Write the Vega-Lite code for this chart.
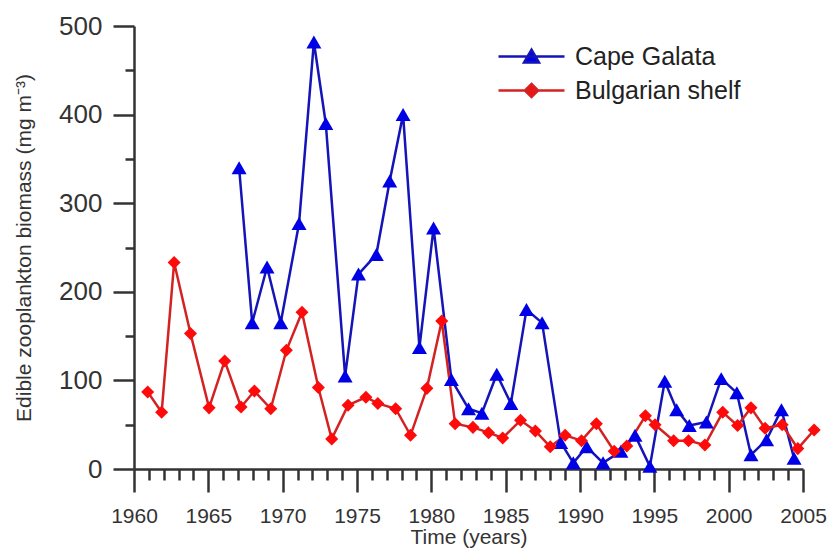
{
  "$schema": "https://vega.github.io/schema/vega-lite/v6.json",
  "autosize": "none",
  "width": 669,
  "height": 443,
  "padding": {"left": 134, "top": 26, "right": 24, "bottom": 79},
  "background": "white",
  "config": {
    "view": {"stroke": null},
    "font": "Liberation Sans"
  },
  "data": {
    "values": [
      {"series": "Cape Galata", "year": 1967.07, "value": 340},
      {"series": "Cape Galata", "year": 1967.95, "value": 165},
      {"series": "Cape Galata", "year": 1968.95, "value": 228},
      {"series": "Cape Galata", "year": 1969.87, "value": 165},
      {"series": "Cape Galata", "year": 1971.1, "value": 277},
      {"series": "Cape Galata", "year": 1972.1, "value": 482},
      {"series": "Cape Galata", "year": 1972.9, "value": 390},
      {"series": "Cape Galata", "year": 1974.2, "value": 105},
      {"series": "Cape Galata", "year": 1975.1, "value": 220},
      {"series": "Cape Galata", "year": 1976.3, "value": 242},
      {"series": "Cape Galata", "year": 1977.2, "value": 325},
      {"series": "Cape Galata", "year": 1978.1, "value": 400},
      {"series": "Cape Galata", "year": 1979.2, "value": 137},
      {"series": "Cape Galata", "year": 1980.15, "value": 272},
      {"series": "Cape Galata", "year": 1981.35, "value": 101},
      {"series": "Cape Galata", "year": 1982.5, "value": 68},
      {"series": "Cape Galata", "year": 1983.4, "value": 63},
      {"series": "Cape Galata", "year": 1984.4, "value": 107},
      {"series": "Cape Galata", "year": 1985.35, "value": 74},
      {"series": "Cape Galata", "year": 1986.4, "value": 180},
      {"series": "Cape Galata", "year": 1987.45, "value": 165},
      {"series": "Cape Galata", "year": 1988.7, "value": 30},
      {"series": "Cape Galata", "year": 1989.55, "value": 7},
      {"series": "Cape Galata", "year": 1990.45, "value": 25},
      {"series": "Cape Galata", "year": 1991.55, "value": 7},
      {"series": "Cape Galata", "year": 1992.75, "value": 20},
      {"series": "Cape Galata", "year": 1993.7, "value": 38},
      {"series": "Cape Galata", "year": 1994.7, "value": 3},
      {"series": "Cape Galata", "year": 1995.7, "value": 99},
      {"series": "Cape Galata", "year": 1996.5, "value": 67},
      {"series": "Cape Galata", "year": 1997.35, "value": 49},
      {"series": "Cape Galata", "year": 1998.5, "value": 53},
      {"series": "Cape Galata", "year": 1999.5, "value": 102},
      {"series": "Cape Galata", "year": 2000.55, "value": 86},
      {"series": "Cape Galata", "year": 2001.5, "value": 16},
      {"series": "Cape Galata", "year": 2002.55, "value": 33},
      {"series": "Cape Galata", "year": 2003.55, "value": 67},
      {"series": "Cape Galata", "year": 2004.4, "value": 12},
      {"series": "Bulgarian shelf", "year": 1960.92, "value": 87},
      {"series": "Bulgarian shelf", "year": 1961.86, "value": 64},
      {"series": "Bulgarian shelf", "year": 1962.7, "value": 233},
      {"series": "Bulgarian shelf", "year": 1963.8, "value": 153},
      {"series": "Bulgarian shelf", "year": 1965.05, "value": 69},
      {"series": "Bulgarian shelf", "year": 1966.1, "value": 122},
      {"series": "Bulgarian shelf", "year": 1967.2, "value": 70},
      {"series": "Bulgarian shelf", "year": 1968.1, "value": 88},
      {"series": "Bulgarian shelf", "year": 1969.2, "value": 68},
      {"series": "Bulgarian shelf", "year": 1970.25, "value": 134},
      {"series": "Bulgarian shelf", "year": 1971.3, "value": 177},
      {"series": "Bulgarian shelf", "year": 1972.4, "value": 92},
      {"series": "Bulgarian shelf", "year": 1973.3, "value": 34},
      {"series": "Bulgarian shelf", "year": 1974.4, "value": 72},
      {"series": "Bulgarian shelf", "year": 1975.6, "value": 81},
      {"series": "Bulgarian shelf", "year": 1976.4, "value": 74},
      {"series": "Bulgarian shelf", "year": 1977.6, "value": 68},
      {"series": "Bulgarian shelf", "year": 1978.6, "value": 38},
      {"series": "Bulgarian shelf", "year": 1979.7, "value": 91},
      {"series": "Bulgarian shelf", "year": 1980.7, "value": 167},
      {"series": "Bulgarian shelf", "year": 1981.6, "value": 51},
      {"series": "Bulgarian shelf", "year": 1982.8, "value": 47},
      {"series": "Bulgarian shelf", "year": 1983.85, "value": 41},
      {"series": "Bulgarian shelf", "year": 1984.8, "value": 35},
      {"series": "Bulgarian shelf", "year": 1986.0, "value": 55},
      {"series": "Bulgarian shelf", "year": 1987.0, "value": 43},
      {"series": "Bulgarian shelf", "year": 1988.0, "value": 25},
      {"series": "Bulgarian shelf", "year": 1989.0, "value": 38},
      {"series": "Bulgarian shelf", "year": 1990.1, "value": 32},
      {"series": "Bulgarian shelf", "year": 1991.1, "value": 51},
      {"series": "Bulgarian shelf", "year": 1992.3, "value": 20},
      {"series": "Bulgarian shelf", "year": 1993.15, "value": 26},
      {"series": "Bulgarian shelf", "year": 1994.4, "value": 60},
      {"series": "Bulgarian shelf", "year": 1995.05, "value": 50},
      {"series": "Bulgarian shelf", "year": 1996.3, "value": 32},
      {"series": "Bulgarian shelf", "year": 1997.3, "value": 32},
      {"series": "Bulgarian shelf", "year": 1998.4, "value": 27},
      {"series": "Bulgarian shelf", "year": 1999.6, "value": 64},
      {"series": "Bulgarian shelf", "year": 2000.6, "value": 49},
      {"series": "Bulgarian shelf", "year": 2001.5, "value": 69},
      {"series": "Bulgarian shelf", "year": 2002.45, "value": 46},
      {"series": "Bulgarian shelf", "year": 2003.6, "value": 50},
      {"series": "Bulgarian shelf", "year": 2004.65, "value": 23},
      {"series": "Bulgarian shelf", "year": 2005.75, "value": 44}
    ]
  },
  "encoding": {
    "x": {
      "field": "year", "type": "quantitative",
      "scale": {"domain": [1960, 2005], "nice": false, "zero": false},
      "axis": {
        "title": "Time (years)",
        "titleFontSize": 21, "titleFontWeight": "normal", "titleColor": "#333", "titlePadding": 0,
        "values": [1960,1961,1962,1963,1964,1965,1966,1967,1968,1969,1970,1971,1972,1973,1974,1975,1976,1977,1978,1979,1980,1981,1982,1983,1984,1985,1986,1987,1988,1989,1990,1991,1992,1993,1994,1995,1996,1997,1998,1999,2000,2001,2002,2003,2004,2005],
        "format": "d",
        "labelExpr": "datum.value % 5 === 0 ? datum.label : ''",
        "labelOverlap": false, "labelFlush": false,
        "labelFontSize": 21, "labelColor": "#333", "labelPadding": 13,
        "tickSize": {"condition": {"test": "datum.value % 5 === 0", "value": 23}, "value": 11},
        "tickColor": "#333", "tickWidth": 2.5,
        "domainColor": "#333", "domainWidth": 2.5,
        "grid": false
      }
    },
    "y": {
      "field": "value", "type": "quantitative",
      "scale": {"domain": [0, 500], "nice": false},
      "axis": {
        "title": "Edible zooplankton biomass (mg m⁻³)",
        "titleFontSize": 21, "titleFontWeight": "normal", "titleColor": "#333", "titlePadding": 24,
        "values": [0,50,100,150,200,250,300,350,400,450,500],
        "labelExpr": "datum.value % 100 === 0 ? datum.label : ''",
        "labelOverlap": false, "labelFlush": false,
        "labelFontSize": 26, "labelColor": "#333", "labelPadding": 11,
        "tickSize": {"condition": {"test": "datum.value % 100 === 0", "value": 21}, "value": 9},
        "tickColor": "#333", "tickWidth": 2.5,
        "domainColor": "#333", "domainWidth": 2.5,
        "grid": false
      }
    }
  },
  "layer": [
    {
      "mark": {"type": "line", "strokeWidth": 2.5},
      "encoding": {
        "stroke": {
          "field": "series", "type": "nominal",
          "scale": {"domain": ["Cape Galata", "Bulgarian shelf"], "range": ["#1414b8", "#d42222"]},
          "legend": {
            "orient": "none", "legendX": 385, "legendY": 18,
            "title": null, "padding": 0,
            "labelFontSize": 25, "labelColor": "#222", "labelOffset": 31, "labelLimit": 400,
            "symbolSize": 484, "symbolStrokeWidth": 2.5, "rowPadding": 8,
            "encode": {
              "symbols": {
                "update": {
                  "shape": {"signal": "datum.value === 'Cape Galata' ? 'M-3,0L3,0M0,-0.62L0.68,0.55L-0.68,0.55Z' : 'M-3,0L3,0M0,-0.6L0.6,0L0,0.6L-0.6,0Z'"},
                  "fill": {"signal": "datum.value === 'Cape Galata' ? '#0000e6' : '#ff0a0a'"},
                  "stroke": {"signal": "datum.value === 'Cape Galata' ? '#1414b8' : '#b83a30'"},
                  "strokeWidth": {"value": 2.5},
                  "opacity": {"value": 1}
                }
              }
            }
          }
        }
      }
    },
    {
      "transform": [{"filter": "datum.series === 'Cape Galata'"}],
      "mark": {"type": "point", "shape": "triangle-up", "filled": true, "opacity": 1, "strokeWidth": 0, "size": 225, "color": "#0000e6"}
    },
    {
      "transform": [{"filter": "datum.series === 'Bulgarian shelf'"}],
      "mark": {"type": "point", "shape": "diamond", "filled": true, "opacity": 1, "strokeWidth": 0, "size": 170, "color": "#ff0a0a"}
    }
  ]
}
